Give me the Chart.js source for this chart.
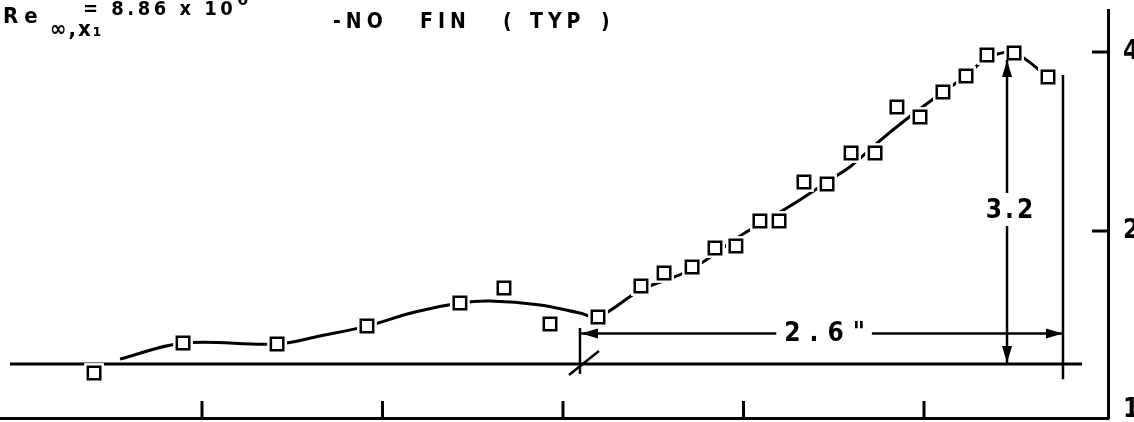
<!DOCTYPE html>
<html><head><meta charset="utf-8">
<script src="https://cdn.jsdelivr.net/npm/chart.js@4.4.1/dist/chart.umd.min.js"></script>
<style>html,body{margin:0;padding:0;background:#fff;overflow:hidden}#wrap{position:relative;width:1134px;height:422px}</style>
</head><body><div id="wrap"><canvas id="c" width="1134" height="422"></canvas></div>
<script>
// ---- data (x in axis units, y on log2 axis) ----
const xTickValues = [1, 2, 3, 4, 5];
const yTickValues = [1, 2, 4];
const yMarkValues = [2, 4];
const dataX = [0.402, 0.895, 1.416, 1.914, 2.429, 2.673, 2.928, 3.194, 3.432, 3.560, 3.715, 3.842, 3.958,
               4.091, 4.197, 4.335, 4.463, 4.596, 4.729, 4.850, 4.978, 5.105, 5.233, 5.349, 5.499, 5.687];
const dataY = [1.154, 1.296, 1.291, 1.384, 1.513, 1.604, 1.395, 1.434, 1.616, 1.700, 1.740, 1.873, 1.887,
               2.079, 2.079, 2.418, 2.399, 2.705, 2.705, 3.233, 3.110, 3.426, 3.645, 3.954, 3.984, 3.631];
const curveX = [0.546, 0.895, 1.416, 1.654, 1.914, 2.180, 2.429, 2.595, 2.873, 3.094, 3.194, 3.432, 3.704,
                3.981, 4.258, 4.479, 4.596, 4.740, 4.911, 5.105, 5.233, 5.349, 5.499, 5.687];
const curveY = [1.218, 1.296, 1.291, 1.332, 1.384, 1.4615, 1.513, 1.525, 1.502, 1.456, 1.434, 1.592, 1.720,
                1.962, 2.203, 2.437, 2.573, 2.812, 3.098, 3.426, 3.645, 3.907, 3.984, 3.631];
const baselineX = [-0.064, 5.875];
const baselineY = [1.195, 1.195];
// dimension annotations (data units)
const dimStartX = 3.094, dimEndX = 5.770, dimLevel = 1.345, dimLabelX = 4.452, dimLabel = '2.6"';
const heightDimX = 5.46, heightDimTop = 3.88, heightDimBottom = 1.195, heightLabelY = 2.169, heightLabel = '3.2';
const endLineX = 5.770, endLineTop = 3.66, endLineBottom = 1.127;
const markerTop = 1.374, markerBottom = 1.150;

const pts = (xs, ys) => xs.map((v, i) => ({x: v, y: ys[i]}));
const FONT = "'DejaVu Sans Condensed', 'DejaVu Sans', sans-serif";

const annot = {
  id: 'annot',
  afterDatasetsDraw(chart) {
    const {ctx, chartArea: a, scales: {x, y}} = chart;
    const X = v => x.getPixelForValue(v), Y = v => y.getPixelForValue(v);
    const line = (x1, y1, x2, y2) => { ctx.beginPath(); ctx.moveTo(x1, y1); ctx.lineTo(x2, y2); ctx.stroke(); };
    const arrow = (tx, ty, dx, dy) => { // tip and direction
      const L = 17, H = 5; const px = -dy, py = dx;
      ctx.beginPath(); ctx.moveTo(tx, ty);
      ctx.lineTo(tx - dx * L + px * H, ty - dy * L + py * H);
      ctx.lineTo(tx - dx * L - px * H, ty - dy * L - py * H);
      ctx.closePath(); ctx.fill();
    };
    ctx.save();
    ctx.strokeStyle = '#000'; ctx.fillStyle = '#000'; ctx.lineCap = 'butt';
    // axis tick marks (inside)
    ctx.lineWidth = 3;
    xTickValues.forEach(v => line(X(v), a.bottom, X(v), a.bottom - 17));
    yMarkValues.forEach(v => line(a.right - 16, Y(v), a.right, Y(v)));
    // x-marker at start of the dimension
    ctx.lineWidth = 2.5;
    const mx = X(dimStartX), by = Y(baselineY[0]);
    line(mx, Y(markerTop), mx, Y(markerBottom));
    line(mx - 11, by + 11, mx + 19, by - 13);
    // horizontal dimension 2.6"
    ctx.font = 'bold 26px ' + FONT; ctx.letterSpacing = '9px';
    ctx.textAlign = 'center'; ctx.textBaseline = 'middle';
    const dy = Y(dimLevel), lx = X(dimLabelX);
    const tw = ctx.measureText(dimLabel).width;
    line(mx, dy, lx - tw / 2 - 4, dy);
    line(lx + tw / 2 + 2, dy, X(dimEndX), dy);
    arrow(mx + 1, dy, -1, 0);
    arrow(X(dimEndX), dy, 1, 0);
    ctx.fillText(dimLabel, lx + 4, dy + 1);
    // vertical dimension 3.2
    const hx = X(heightDimX), hy = Y(heightLabelY);
    line(hx, Y(heightDimTop), hx, hy - 17);
    line(hx, hy + 16, hx, Y(heightDimBottom));
    arrow(hx, Y(heightDimTop), 0, -1);
    arrow(hx, Y(heightDimBottom) - 1, 0, 1);
    ctx.letterSpacing = '3px';
    ctx.fillText(heightLabel, hx + 4, hy + 1);
    // end line
    line(X(endLineX), Y(endLineTop), X(endLineX), Y(endLineBottom));
    // title texts
    ctx.textAlign = 'left'; ctx.textBaseline = 'alphabetic';
    ctx.font = 'bold 22px ' + FONT; ctx.letterSpacing = '6px';
    ctx.fillText('Re', 3, 23);
    ctx.font = 'bold 22px ' + FONT; ctx.letterSpacing = '2px';
    ctx.fillText('\u221E,x\u2081', 50, 36);
    ctx.font = 'bold 20px ' + FONT; ctx.letterSpacing = '3.5px';
    ctx.fillText('= 8.86 x 10', 83, 15);
    ctx.font = 'bold 18px ' + FONT; ctx.letterSpacing = '0px';
    ctx.fillText('6', 237, 5);
    ctx.font = 'bold 21px ' + FONT; ctx.letterSpacing = '5px';
    ctx.fillText('-NO', 333, 28);
    ctx.fillText('FIN', 420, 28);
    ctx.fillText('(', 503, 28);
    ctx.fillText('TYP', 530, 28);
    ctx.fillText(')', 601, 28);
    ctx.restore();
  }
};

new Chart(document.getElementById('c'), {
  type: 'scatter',
  data: {
    datasets: [
      {label: 'data', data: pts(dataX, dataY), showLine: false, pointStyle: 'rect', pointRadius: 8.8,
       pointBorderWidth: 2.5, pointBorderColor: '#000', pointBackgroundColor: '#fff', pointHoverRadius: 8.8},
      {label: 'halo', data: pts(dataX, dataY), showLine: false, pointStyle: 'rect', pointRadius: 14,
       pointBorderWidth: 0, pointBorderColor: '#fff', pointBackgroundColor: '#fff', pointHoverRadius: 14},
      {label: 'curve', data: pts(curveX, curveY), showLine: true, tension: 0.35, borderColor: '#000',
       borderWidth: 3, pointRadius: 0, pointHoverRadius: 0},
      {label: 'baseline', data: pts(baselineX, baselineY), showLine: true, borderColor: '#000',
       borderWidth: 3, pointRadius: 0, pointHoverRadius: 0}
    ]
  },
  options: {
    responsive: false, animation: false, devicePixelRatio: 1,
    layout: {autoPadding: false, padding: {top: 10, left: 0, right: 0, bottom: 0}},
    plugins: {legend: {display: false}, tooltip: {enabled: false}},
    scales: {
      x: {type: 'linear', position: 'bottom', min: -0.1191, max: 6.0194,
          grid: {display: false, drawTicks: false}, border: {display: true, color: '#000', width: 3},
          ticks: {display: false},
          afterFit: s => { s.height = 4; s.paddingLeft = 0; s.paddingRight = 0; }},
      y: {type: 'logarithmic', position: 'right', min: 0.9695, max: 4.707,
          grid: {display: false, drawTicks: false}, border: {display: true, color: '#000', width: 3},
          afterBuildTicks: s => { s.ticks = yTickValues.map(v => ({value: v})); },
          ticks: {color: '#000', padding: 15, font: {family: FONT, size: 26, weight: 'bold'},
                  callback: v => yTickValues.includes(v) ? String(v) : ''},
          afterFit: s => { s.width = 26; s.paddingTop = 0; s.paddingBottom = 0; }}
    }
  },
  plugins: [annot]
});
</script></body></html>
